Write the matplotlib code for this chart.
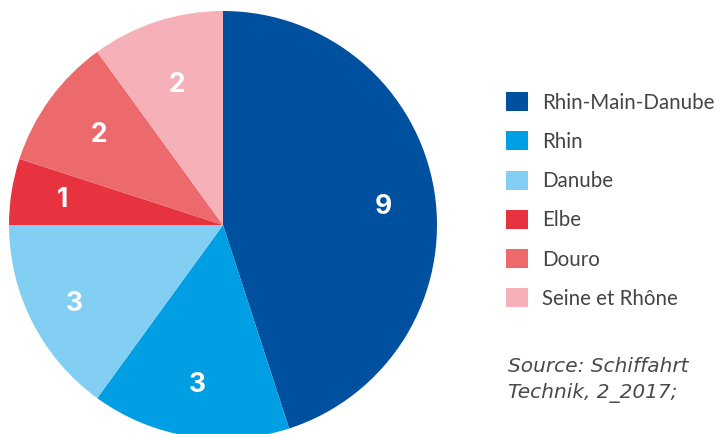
import numpy as np
import matplotlib
matplotlib.use("Agg")
import matplotlib.pyplot as plt
from matplotlib.patches import Patch

# Fleuves et nombre de bateaux
categories = ["Rhin-Main-Danube", "Rhin", "Danube", "Elbe", "Douro", "Seine et Rhône"]
values = [9, 3, 3, 1, 2, 2]
colors = ["#0050A0", "#009FE3", "#83CFF4", "#E73340", "#EC6A6C", "#F5B0B8"]
source_lines = ["Source: Schiffahrt", "Technik, 2_2017;"]

# radial placement of the value labels (fraction of radius) and small angular nudges
label_r = [0.755, 0.757, 0.785, 0.76, 0.715, 0.69]
label_nudge = [2.5, 0.0, -1.0, 0.0, 0.0, 0.0]

W, H = 716, 434
fig = plt.figure(figsize=(W / 100, H / 100), dpi=100)
ax = fig.add_axes([0, 0, 1, 1])

cx, cy, r = 223, H - 225, 214
wedges, _ = ax.pie(
    values,
    colors=colors,
    startangle=90,
    counterclock=False,
    center=(cx, cy),
    radius=r,
    frame=True,
    wedgeprops=dict(linewidth=0),
)
ax.set_xlim(0, W)
ax.set_ylim(0, H)
ax.set_aspect("equal")
ax.axis("off")

for w, v, lr, nd in zip(wedges, values, label_r, label_nudge):
    mid = np.deg2rad((w.theta1 + w.theta2) / 2 - nd)
    ax.text(cx + lr * r * np.cos(mid), cy + lr * r * np.sin(mid), f"{v}",
            ha="center", va="center", color="white", fontsize=19,
            fontweight="bold", family="Inter")

handles = [Patch(facecolor=c, edgecolor="none") for c in colors]
leg = fig.legend(
    handles, categories,
    loc="upper left",
    bbox_to_anchor=(506 / W, 1 - 92 / H),
    frameon=False,
    borderpad=0,
    borderaxespad=0,
    handlelength=1.05,
    handleheight=1.05,
    handletextpad=0.72,
    labelspacing=0.91,
    prop=dict(family="Lato", size=14.8),
)
for t in leg.get_texts():
    t.set_color("#444444")

for i, line in enumerate(source_lines):
    fig.text(508 / W, 1 - (367 + 26 * i) / H, line, ha="left", va="center",
             family="DejaVu Sans", style="oblique",
             fontsize=14.5, color="#4a4a4a")

fig.savefig("out.png", dpi=100)
